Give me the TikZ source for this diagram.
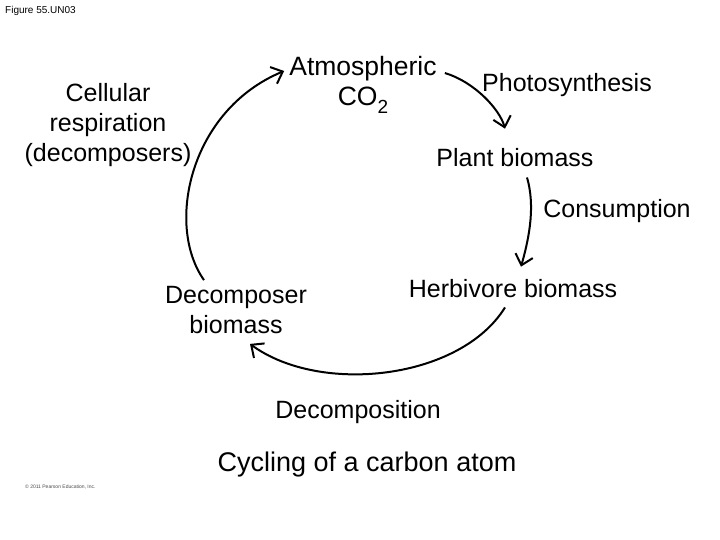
\documentclass[tikz,border=0pt]{standalone}
\usepackage{fontspec}
\setmainfont{Liberation Sans}
\usetikzlibrary{arrows.meta}
\begin{document}
\begin{tikzpicture}[x=1pt,y=-1pt,
  lbl/.style={inner sep=0pt, font=\fontsize{25}{30}\selectfont, align=center},
  cyc/.style={line width=2pt, -{Straight Barb[length=10pt,width=18pt,line width=2pt]}}]
\useasboundingbox (0,0) rectangle (720,540);
\fill[white] (0,0) rectangle (720,540);
\node[inner sep=0pt, anchor=base west, font=\fontsize{10}{12}\selectfont] (fig) at (5,14) {Figure 55.UN03};
\node[lbl, font=\fontsize{26.5}{30}\selectfont] (atm) at (363,85) {Atmospheric\\CO\raisebox{-0.3em}{\fontsize{19}{19}\selectfont 2}};
\node[lbl, anchor=base] (photo) at (567,92) {Photosynthesis};
\node[lbl, anchor=base] (plant) at (515,167) {Plant biomass};
\node[lbl, anchor=base] (cons) at (617,218) {Consumption};
\node[lbl, anchor=base] (herb) at (513,297) {Herbivore biomass};
\node[lbl] (decomp) at (236,310) {Decomposer\\biomass};
\node[lbl, anchor=base] (dcmp) at (358,418) {Decomposition};
\node[lbl, font=\fontsize{27}{32}\selectfont, anchor=base] (title) at (367,471) {Cycling of a carbon atom};
\node[lbl] (resp) at (108,125) {Cellular\\respiration\\(decomposers)};
\node[inner sep=0pt, anchor=base west, font=\fontsize{5}{6}\selectfont, text=black!70] (copy) at (25,488) {© 2011 Pearson Education, Inc.};
\draw[cyc] ([shift={(-32,-6)}]decomp.north) .. controls (165,225) and (190,110) .. ([shift={(-5,-14)}]atm.west);
\draw[cyc] ([shift={(8,-12)}]atm.east) .. controls (475,82) and (500,110) .. ([shift={(-10,-20)}]plant.north);
\draw[cyc] ([shift={(12,10)}]plant.south) .. controls (535,205) and (530,235) .. ([shift={(8,-12)}]herb.north);
\draw[cyc] ([shift={(-8,10)}]herb.south) .. controls (460,380) and (320,395) .. ([shift={(14,10)}]decomp.south);
\end{tikzpicture}
\end{document}
